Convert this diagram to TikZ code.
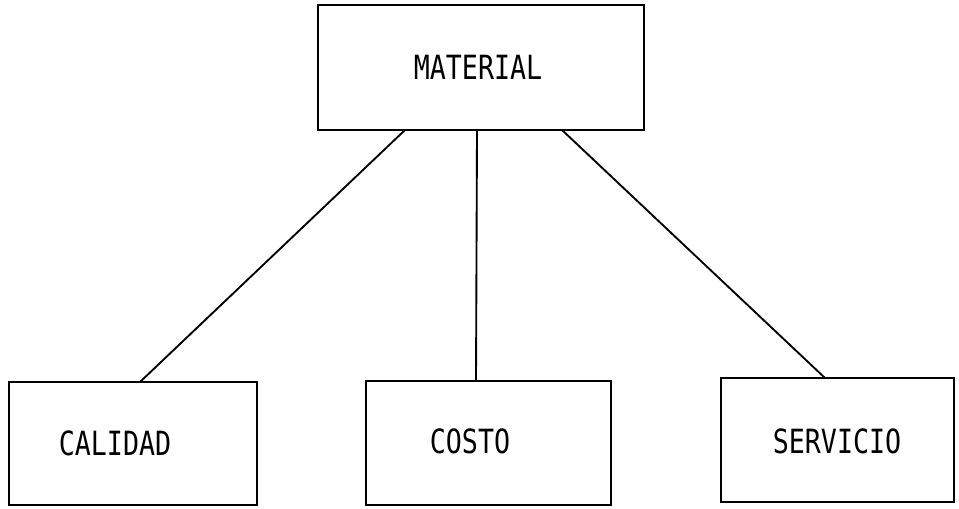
\documentclass[tikz,border=0pt]{standalone}
\usepackage{fontspec}
\newfontfamily\plotfont[FakeStretch=0.8]{DejaVu Sans Mono}
\begin{document}
\begin{tikzpicture}[x=0.75pt,y=-0.75pt,
  box/.style={draw=black,line width=1.9pt,rectangle,inner sep=0pt,outer sep=0pt},
  lbl/.style={inner sep=0pt,font=\plotfont\fontsize{25pt}{30pt}\selectfont},
  link/.style={draw=black,line width=1.4pt}]
\useasboundingbox (0,0) rectangle (959,508);

% boxes
\node[box,minimum width=326*0.75pt,minimum height=125*0.75pt] (material) at (481,67.5) {};
\node[box,minimum width=248*0.75pt,minimum height=123*0.75pt] (calidad) at (133,443.5) {};
\node[box,minimum width=245*0.75pt,minimum height=124*0.75pt] (costo) at (488.5,443) {};
\node[box,minimum width=233*0.75pt,minimum height=124*0.75pt] (servicio) at (837.5,440) {};

% labels
\node[lbl] (materialtext) at (478,67) {MATERIAL};
\node[lbl] (calidadtext) at (115,443) {CALIDAD};
\node[lbl] (costotext) at (470,441) {COSTO};
\node[lbl] (serviciotext) at (837,441) {SERVICIO};

% attachment columns on the box edges
\coordinate (ta) at (405,0);
\coordinate (tb) at (477,0);
\coordinate (tc) at (562,0);
\coordinate (ba) at (140,0);
\coordinate (bb) at (476,0);
\coordinate (bc) at (825,0);

% connectors
\draw[link] (ta |- material.south) -- (ba |- calidad.north);
\draw[link] (tb |- material.south) -- (bb |- costo.north);
\draw[link] (tc |- material.south) -- (bc |- servicio.north);
\end{tikzpicture}
\end{document}
